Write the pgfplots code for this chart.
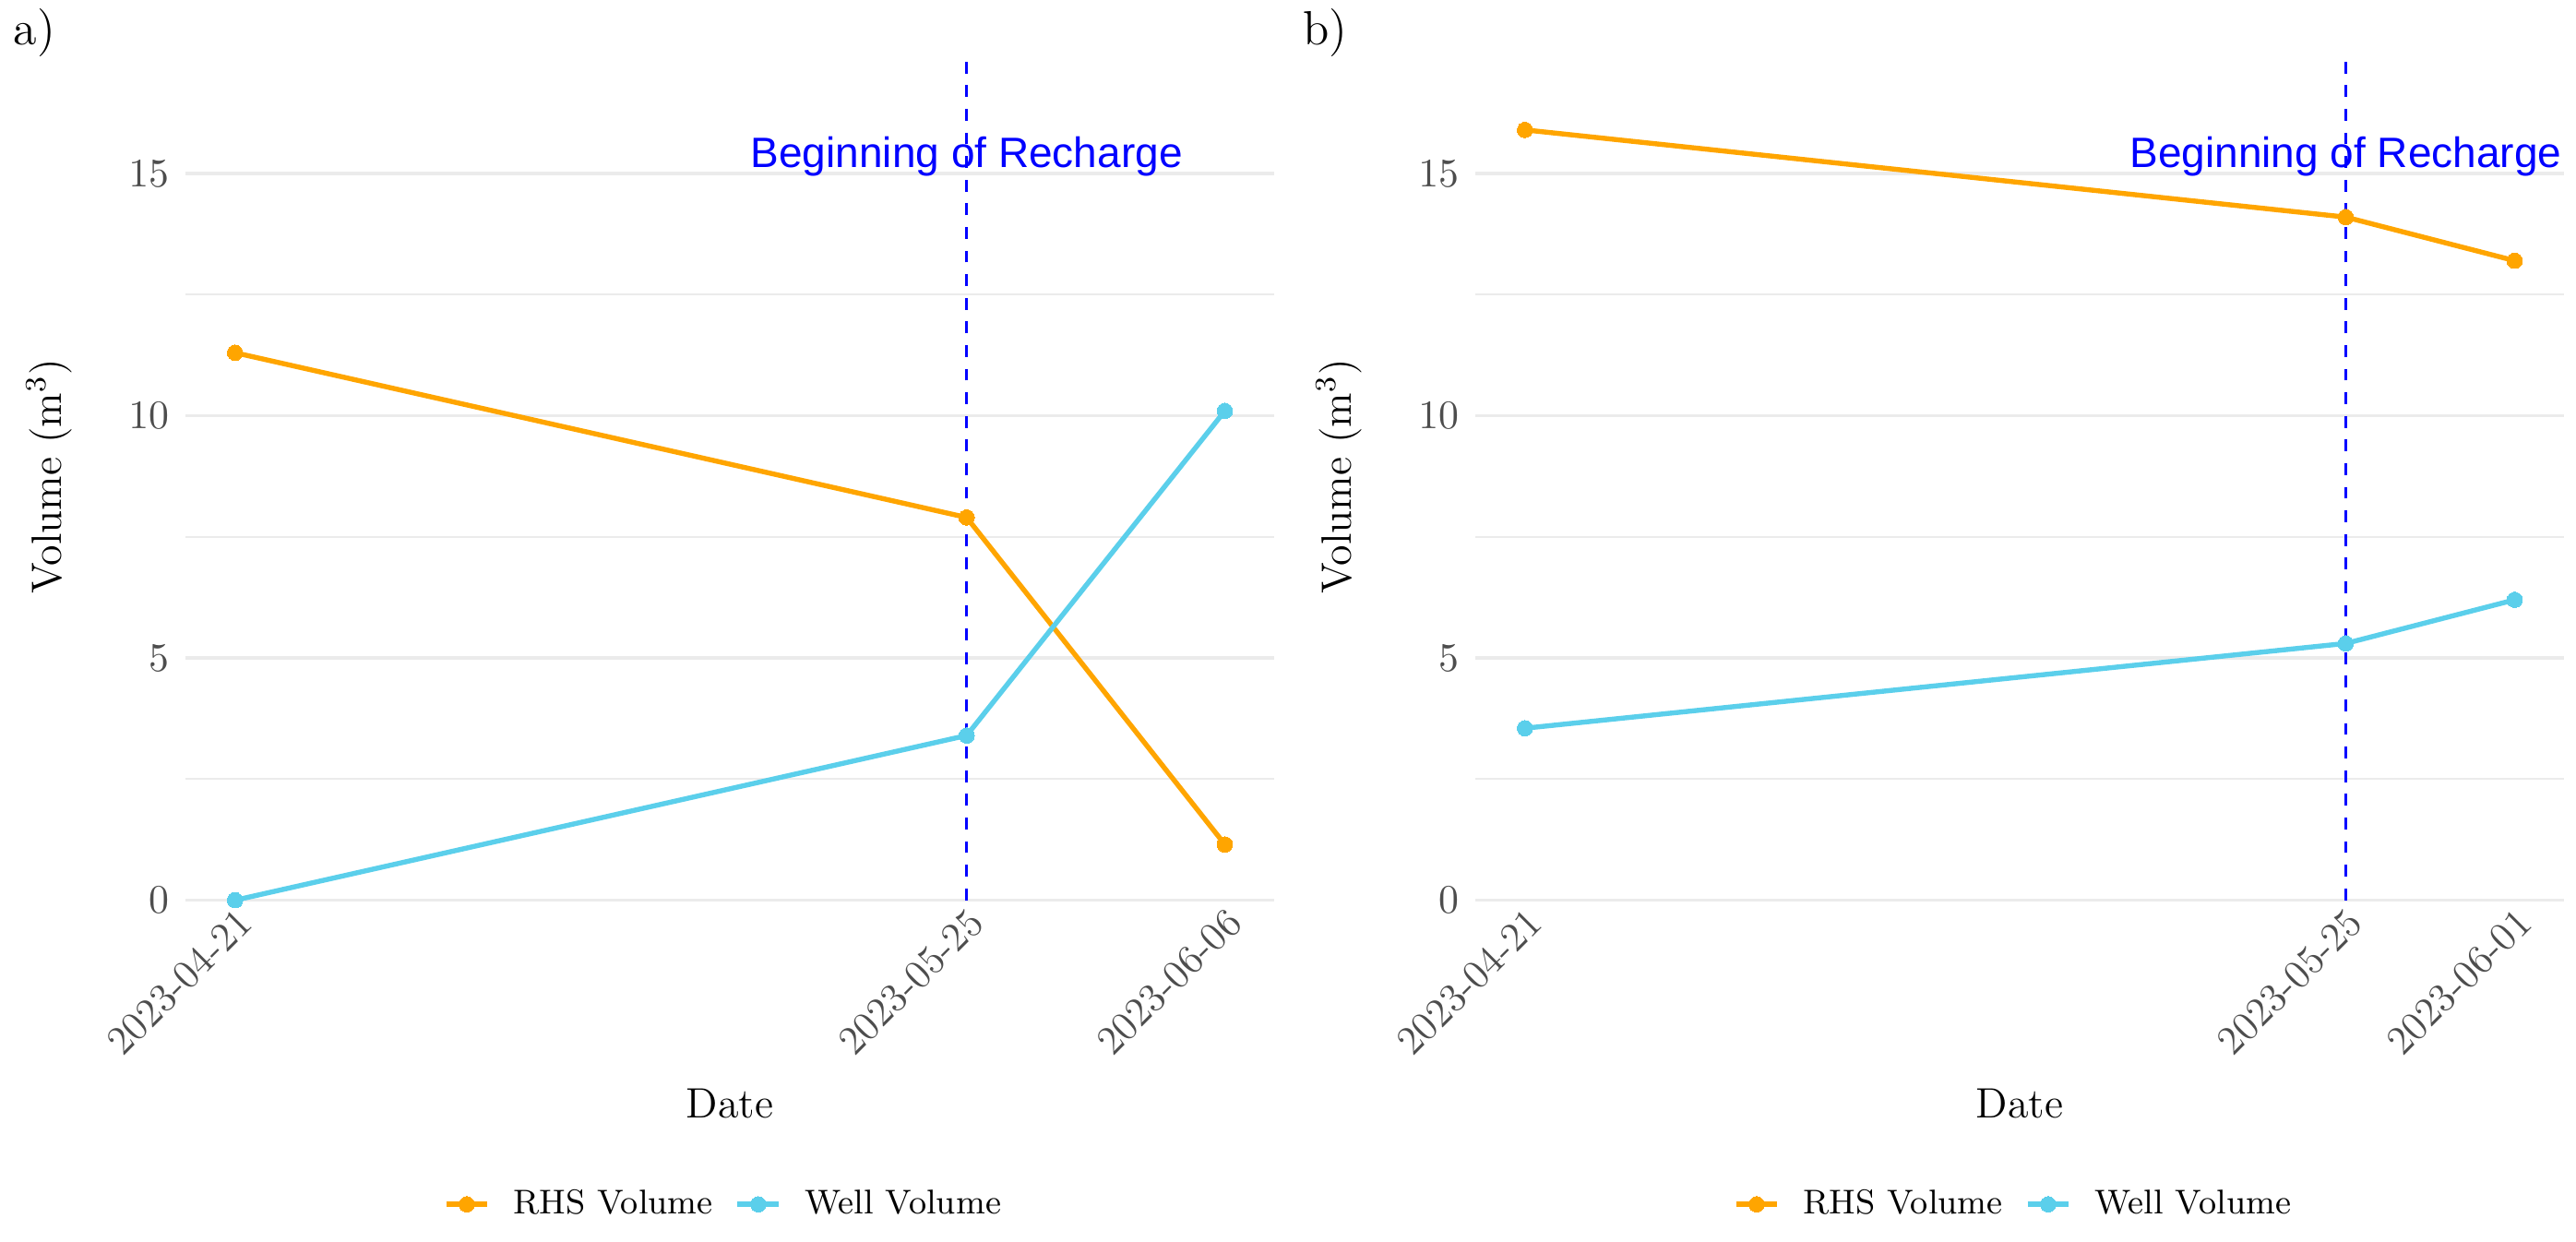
\documentclass[border=0pt]{standalone}
\usepackage{pgfplots}
\pgfplotsset{compat=1.18}
\usepackage{fontspec}
\newfontfamily\annfont{Liberation Sans}
\definecolor{rhs}{HTML}{FFA500}
\definecolor{well}{HTML}{5BCFEB}
\definecolor{gridc}{HTML}{EBEBEB}
\definecolor{tickc}{HTML}{4D4D4D}
\pgfplotsset{
 panel/.style={
  scale only axis, width=295pt, height=229.7pt, anchor=south west,
  ymin=0, ymax=17.5, ytick={0,5,10,15}, minor ytick={2.5,7.5,12.5},
  ymajorgrids, yminorgrids,
  major grid style={draw=gridc, line width=0.9pt},
  minor grid style={draw=gridc, line width=0.45pt},
  axis line style={draw=none}, tick style={draw=none},
  ticklabel style={font=\fontsize{11}{13}\selectfont, text=tickc},
  yticklabel style={anchor=east, xshift=-1pt},
  xticklabel style={rotate=45, anchor=north east, inner sep=1pt},
  xlabel=Date, ylabel={Volume (m$^3$)},
  label style={font=\fontsize{11.5}{13}\selectfont},
  xlabel style={at={(axis description cs:0.5,-0.2394)}, anchor=center},
  ylabel style={at={(axis description cs:-0.1254,0.5)}, anchor=center},
  legend style={at={(axis description cs:0.493,-0.3587)}, anchor=center,
    legend columns=2, draw=none, fill=none, font=\fontsize{9.3}{11}\selectfont,
    nodes={inner xsep=0pt},
    /tikz/every even column/.append style={column sep=6pt}},
  legend image code/.code={\draw[mark repeat=2,mark phase=2,#1] plot coordinates {(0pt,0pt) (5.6pt,0pt) (11.2pt,0pt)};},
  rhsline/.style={draw=rhs, line width=1.35pt, mark=*, mark size=2.1pt, mark options={fill=rhs, draw=rhs, solid, line width=0pt}},
  wellline/.style={draw=well, line width=1.35pt, mark=*, mark size=2.1pt, mark options={fill=well, draw=well, solid, line width=0pt}},
  vline/.style={draw=blue, dash pattern=on 3.2pt off 3.2pt, line width=0.65pt, forget plot},
 }
}
\begin{document}
\begin{tikzpicture}
\useasboundingbox (0,0) rectangle (698pt,336.5pt);
\node[anchor=west, font=\fontsize{13}{15}\selectfont, inner sep=0pt] at (3.5pt,327.5pt) {a)};
\node[anchor=west, font=\fontsize{13}{15}\selectfont, inner sep=0pt] at (352.8pt,327.5pt) {b)};
\begin{axis}[panel, at={(50.3pt,92.6pt)},
  xmin=-2.3, xmax=48.3, xtick={0,34,46},
  xticklabels={2023-04-21,2023-05-25,2023-06-06}]
\addplot[vline] coordinates {(34,0) (34,17.5)};
\addplot[rhsline] coordinates {(0,11.3) (34,7.9) (46,1.15)};
\addlegendentry{\hspace{6.4pt}RHS Volume}
\addplot[wellline] coordinates {(0,0) (34,3.4) (46,10.1)};
\addlegendentry{\hspace{6.4pt}Well Volume}
\node[font=\annfont\fontsize{11.5}{13}\selectfont, text=blue] at (axis cs:34,15.35) {Beginning of Recharge};
\end{axis}
\begin{axis}[panel, at={(399.8pt,92.6pt)},
  xmin=-2.05, xmax=43.05, xtick={0,34,41},
  xticklabels={2023-04-21,2023-05-25,2023-06-01}]
\addplot[vline] coordinates {(34,0) (34,17.5)};
\addplot[rhsline] coordinates {(0,15.9) (34,14.1) (41,13.2)};
\addlegendentry{\hspace{6.4pt}RHS Volume}
\addplot[wellline] coordinates {(0,3.55) (34,5.3) (41,6.2)};
\addlegendentry{\hspace{6.4pt}Well Volume}
\node[font=\annfont\fontsize{11.5}{13}\selectfont, text=blue] at (axis cs:34,15.35) {Beginning of Recharge};
\end{axis}
\end{tikzpicture}
\end{document}
